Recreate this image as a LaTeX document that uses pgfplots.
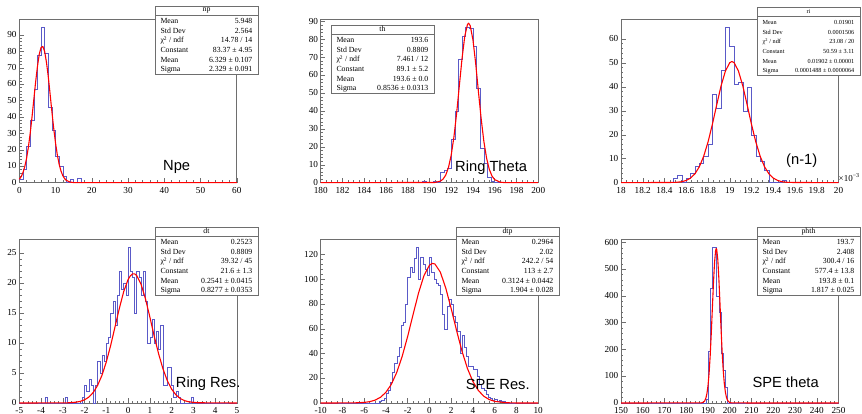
\documentclass[border=0pt]{standalone}
\usepackage{pgfplots}
\pgfplotsset{compat=1.18}
\usepackage{fontspec}
\setmainfont{Liberation Serif}
\newfontfamily\lsans{Liberation Sans}

\definecolor{histblue}{RGB}{90,90,200}
\definecolor{framegray}{RGB}{110,110,110}

\pgfplotsset{
  rootax/.style={
    scale only axis, width=217.5pt, height=163.5pt,
    ymin=0, clip=false, scaled ticks=false,
    axis line style={framegray, line width=0.6pt},
    every tick/.style={framegray, line width=0.5pt},
    tick align=inside, xtick pos=left, ytick pos=left,
    major tick length=4.5pt, minor tick length=2.2pt,
    minor x tick num=4, minor y tick num=4,
    tick label style={font=\fontsize{9.2}{9.5}\selectfont, inner sep=0pt,
      text height=6pt, text depth=0pt},
    xticklabel style={yshift=-4.2pt},
    yticklabel style={xshift=-2.5pt, yshift=0.4pt},
    /pgf/number format/assume math mode=true,
    anchor=south west,
  },
  hist/.style={const plot mark left, histblue, line width=0.55pt, no marks},
  fitc/.style={red, line width=1.1pt, no marks, line join=round},
}

\newcommand\sbfont{\fontsize{7.8}{8}\selectfont}
% stat box: left, top (image y), title, six values
\newcommand\statbox[9]{%
  \begin{scope}[shift={(#1,414-#2)}]
    \draw[framegray, line width=0.6pt, fill=white] (0,0) rectangle (103,-68.5);
    \draw[framegray, line width=0.5pt] (0,-9) -- (103,-9);
    \node[font=\sbfont, inner sep=0pt] at (51.5,-4.3) {#3};
    \node[font=\sbfont, inner sep=0pt, anchor=base west] at (5.3,-17.6) {Mean};
    \node[font=\sbfont, inner sep=0pt, anchor=base west] at (5.3,-27.3) {Std Dev};
    \node[font=\sbfont, inner sep=0pt, anchor=base west] at (5.3,-36.9) {χ\textsuperscript{2} / ndf};
    \node[font=\sbfont, inner sep=0pt, anchor=base west] at (5.3,-46.6) {Constant};
    \node[font=\sbfont, inner sep=0pt, anchor=base west] at (5.3,-56.3) {Mean};
    \node[font=\sbfont, inner sep=0pt, anchor=base west] at (5.3,-65.9) {Sigma};
    \node[font=\sbfont, inner sep=0pt, anchor=base east] at (97.5,-17.6) {#4};
    \node[font=\sbfont, inner sep=0pt, anchor=base east] at (97.5,-27.3) {#5};
    \node[font=\sbfont, inner sep=0pt, anchor=base east] at (97.5,-36.9) {#6};
    \node[font=\sbfont, inner sep=0pt, anchor=base east] at (97.5,-46.6) {#7};
    \node[font=\sbfont, inner sep=0pt, anchor=base east] at (97.5,-56.3) {#8};
    \node[font=\sbfont, inner sep=0pt, anchor=base east] at (97.5,-65.9) {#9};
  \end{scope}}

\begin{document}
\begin{tikzpicture}[x=1pt, y=1pt]
\path[use as bounding box] (0,0) rectangle (862,414);

% ---- np ----
\begin{axis}[rootax, at={(19.3pt,231.3pt)},
    xmin=0, xmax=60, ymax=99.75,
    xtick={0,10,...,60}, ytick={0,10,...,90}]
\addplot[hist] coordinates {
  (0,2) (1,8) (2,22) (3,38) (4,57) (5,78) (6,95) (7,79) (8,46) (9,32)
  (10,16) (11,10) (12,4) (13,0) (14,2) (15,0) (16,3) (17,0) (60,0)};
\addplot[fitc] coordinates {
  (0,2.08) (0.5,3.63) (1,6.08) (1.5,9.72) (2,14.8) (2.5,21.6) (3,30.0)
  (3.5,39.9) (4,50.6) (4.5,61.3) (5,70.8) (5.5,78.3) (6,82.5) (6.5,83.1)
  (7,80.0) (7.5,73.4) (8,64.5) (8.5,54.0) (9,43.2) (9.5,33.0) (10,24.1)
  (10.5,16.8) (11,11.2) (11.5,7.1) (12,4.3) (12.5,2.5) (13,1.4) (14,0.37)
  (15,0.08) (16,0.01) (60,0)};
\end{axis}

% ---- th ----
\begin{axis}[rootax, at={(320.7pt,231.3pt)},
    xmin=180, xmax=200, ymax=91.35, minor x tick num=3,
    xtick={180,182,...,200}, ytick={0,10,...,90}]
\addplot[hist] coordinates {
  (180,0) (189.333,1) (189.667,0) (190.333,1) (190.667,0) (191,6)
  (191.333,7) (191.667,8) (192,24) (192.333,40) (192.667,69) (193,82)
  (193.333,87) (193.667,86) (194,76) (194.333,53) (194.667,19) (195,11)
  (195.333,3) (195.667,1) (196,0) (200,0)};
\addplot[fitc] coordinates {
  (180,0) (190.5,0.12) (191,0.86) (191.25,2.0) (191.5,4.3) (191.75,8.5)
  (192,15.4) (192.25,25.5) (192.5,38.8) (192.75,54.3) (193,69.6)
  (193.25,81.9) (193.5,88.5) (193.6,89.1) (193.75,87.7) (194,79.8)
  (194.25,66.7) (194.5,51.1) (194.75,36.0) (195,23.2) (195.25,13.8)
  (195.5,7.5) (195.75,3.7) (196,1.7) (196.5,0.28) (197,0.02) (200,0)};
\end{axis}

% ---- ri (x in units of 1e-3) ----
\begin{axis}[rootax, at={(621pt,231.3pt)},
    xmin=18, xmax=20, ymax=68.25, minor x tick num=3,
    xtick={18,18.2,18.4,18.6,18.8,19,19.2,19.4,19.6,19.8,20},
    ytick={0,10,...,60}]
\addplot[hist] coordinates {
  (18,0) (18.48,2) (18.52,3) (18.56,0) (18.60,2) (18.64,4) (18.68,7)
  (18.72,8) (18.76,11) (18.80,16) (18.84,37) (18.88,31) (18.92,47)
  (18.96,65) (19.00,57) (19.04,41) (19.08,42) (19.12,30) (19.16,40)
  (19.20,20) (19.24,11) (19.28,9) (19.32,5) (19.36,0) (19.48,1)
  (19.52,0) (20,0)};
\addplot[fitc] coordinates {
  (18,0) (18.5,0.11) (18.56,0.42) (18.6,0.94) (18.64,1.94) (18.68,3.72)
  (18.72,6.63) (18.76,11.0) (18.8,16.96) (18.84,24.3) (18.88,32.5)
  (18.92,40.4) (18.96,46.6) (19.0,50.1) (19.02,50.59) (19.04,50.1)
  (19.08,46.6) (19.12,40.4) (19.16,32.5) (19.2,24.3) (19.24,16.96)
  (19.28,11.0) (19.32,6.63) (19.36,3.72) (19.4,1.94) (19.44,0.94)
  (19.48,0.42) (19.54,0.11) (20,0)};
\end{axis}

% ---- dt ----
\begin{axis}[rootax, at={(19.3pt,11pt)},
    xmin=-5, xmax=5, ymax=27.3,
    xtick={-5,-4,...,5}, ytick={0,5,...,25}]
\addplot[hist] coordinates {
  (-5,0) (-3.8,1) (-3.7,0) (-2.9,1) (-2.8,0) (-2.1,1) (-2.0,3) (-1.9,2)
  (-1.8,4) (-1.7,3) (-1.6,0) (-1.5,3) (-1.4,7) (-1.3,5) (-1.2,8) (-1.1,7)
  (-1.0,10) (-0.9,11) (-0.8,15) (-0.7,17) (-0.6,13) (-0.5,18) (-0.4,22)
  (-0.3,19) (-0.2,20) (-0.1,18) (0,26) (0.1,22) (0.2,21) (0.3,15)
  (0.4,22) (0.5,21) (0.6,18) (0.7,22) (0.8,17) (0.9,10) (1.0,11)
  (1.1,14) (1.2,10) (1.3,12) (1.4,9) (1.5,13) (1.6,3) (1.7,3) (1.8,6)
  (1.9,6) (2.0,3) (2.1,1) (2.2,2) (2.3,1) (2.4,0) (2.9,1) (3.0,0) (5,0)};
\addplot[fitc] coordinates {
  (-5,0) (-2.8,0.02) (-2.4,0.13) (-2.2,0.27) (-2.0,0.53) (-1.8,0.99)
  (-1.6,1.76) (-1.4,2.94) (-1.2,4.62) (-1.0,6.85) (-0.8,9.6) (-0.6,12.7)
  (-0.4,15.8) (-0.2,18.6) (0,20.6) (0.1,21.2) (0.2,21.55) (0.3,21.57)
  (0.4,21.27) (0.6,19.8) (0.8,17.4) (1.0,14.4) (1.2,11.2) (1.4,8.28)
  (1.6,5.76) (1.8,3.77) (2.0,2.33) (2.2,1.36) (2.4,0.75) (2.6,0.39)
  (2.8,0.19) (3.2,0.04) (5,0)};
\end{axis}

% ---- dtp ----
\begin{axis}[rootax, at={(320.7pt,11pt)},
    xmin=-10, xmax=10, ymax=132.3, minor x tick num=3,
    xtick={-10,-8,...,10}, ytick={0,20,...,120}]
\addplot[hist] coordinates {
  (-10,0) (-4.6,1) (-4.4,2) (-4.2,4) (-4.0,8) (-3.8,10) (-3.6,17)
  (-3.4,25) (-3.2,32) (-3.0,38) (-2.8,45) (-2.6,63) (-2.4,65) (-2.2,80)
  (-2.0,102) (-1.8,110) (-1.6,106) (-1.4,117) (-1.2,126) (-1.0,100)
  (-0.8,118) (-0.6,112) (-0.4,108) (-0.2,103) (0,118) (0.2,106) (0.4,100)
  (0.6,97) (0.8,95) (1.0,88) (1.2,72) (1.4,60) (1.6,78) (1.8,84) (2.0,80)
  (2.2,70) (2.4,65) (2.6,58) (2.8,40) (3.0,55) (3.2,45) (3.4,38) (3.6,30)
  (3.8,30) (4.0,27) (4.2,27) (4.4,22) (4.6,15) (4.8,12) (5.0,10) (5.2,7)
  (5.4,5) (5.6,4) (5.8,2) (6.0,3) (6.2,1) (6.4,2) (6.6,1) (6.8,1)
  (7.0,0) (10,0)};
\addplot[fitc] coordinates {
  (-10,0) (-7,0.07) (-6,0.46) (-5.5,1.07) (-5,2.31) (-4.5,4.63) (-4,8.69)
  (-3.5,15.2) (-3,24.9) (-2.5,38.0) (-2,54.0) (-1.5,71.8) (-1,89.1)
  (-0.5,103.2) (0,111.5) (0.25,112.95) (0.5,112.5) (1,105.9) (1.5,93.0)
  (2,76.3) (2.5,58.4) (3,41.7) (3.5,27.8) (4,17.3) (4.5,10.1) (5,5.46)
  (5.5,2.76) (6,1.31) (7,0.24) (8,0.02) (10,0)};
\end{axis}

% ---- phth ----
\begin{axis}[rootax, at={(621pt,11pt)},
    xmin=150, xmax=250, ymax=611,
    xtick={150,160,...,250}, ytick={0,100,...,600}]
\addplot[hist] coordinates {
  (150,0) (189,15) (190,195) (191,430) (192,582) (193,582) (194,397)
  (195,340) (196,185) (197,122) (198,60) (199,0) (250,0)};
\addplot[fitc] coordinates {
  (150,0) (187,0.5) (188,3.5) (188.5,8.2) (189,17.6) (189.5,35.1)
  (190,64.8) (190.5,111) (191,176) (191.5,259) (192,353) (192.5,447)
  (193,524) (193.5,570) (193.75,577) (194,574) (194.5,536) (195,464)
  (195.5,373) (196,277) (196.5,191) (197,122) (197.5,72.6) (198,40)
  (198.5,20.4) (199,9.6) (200,1.7) (201,0.2) (250,0)};
\end{axis}

% ---- panel names ----
\begin{scope}[every node/.style={font=\lsans\fontsize{14.7}{16}\selectfont, anchor=base west, inner sep=0pt}]
\node at (163,243) {Npe};
\node at (455,242.3) {Ring Theta};
\node at (786,249.7) {(n-1)};
\node at (175.7,26) {Ring Res.};
\node at (465.7,24.3) {SPE Res.};
\node at (752.3,26) {SPE theta};
\end{scope}
\node[font=\fontsize{9}{10}\selectfont, anchor=west, inner sep=0pt] at (838.5,236.5) {×10\textsuperscript{−3}};

% ---- stat boxes ----
\statbox{155}{6}{np}{5.948}{2.564}{14.78 / 14}{83.37 ± 4.95}{6.329 ± 0.107}{2.329 ± 0.091}
\statbox{331}{25}{th}{193.6}{0.8809}{7.461 / 12}{89.1 ± 5.2}{193.6 ± 0.0}{0.8536 ± 0.0313}
\statbox{155}{227}{dt}{0.2523}{0.8809}{39.32 / 45}{21.6 ± 1.3}{0.2541 ± 0.0415}{0.8277 ± 0.0353}
\statbox{456}{227}{dtp}{0.2964}{2.02}{242.2 / 54}{113 ± 2.7}{0.3124 ± 0.0442}{1.904 ± 0.028}
\statbox{757}{227}{phth}{193.7}{2.408}{300.4 / 16}{577.4 ± 13.8}{193.8 ± 0.1}{1.817 ± 0.025}
\renewcommand\sbfont{\fontsize{6.2}{7}\selectfont}
\statbox{757}{7}{ri}{0.01901}{0.0001506}{23.08 / 20}{50.59 ± 3.11}{0.01902 ± 0.00001}{0.0001488 ± 0.0000064}

\end{tikzpicture}
\end{document}
